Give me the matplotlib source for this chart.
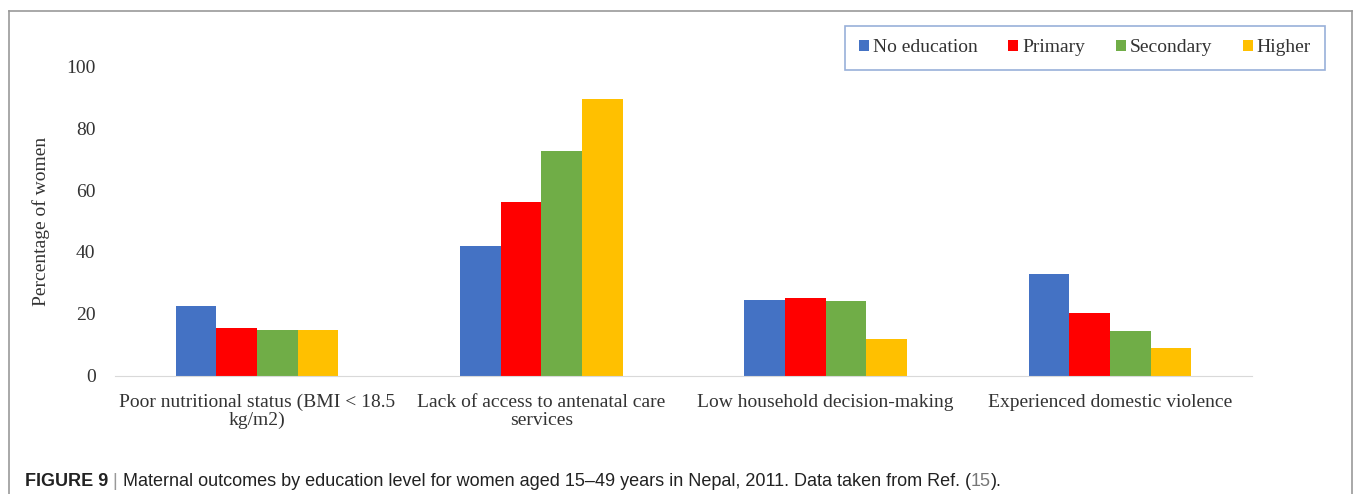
import matplotlib
matplotlib.use("Agg")
import matplotlib.pyplot as plt
import numpy as np
from matplotlib.lines import Line2D

categories = [
    "Poor nutritional status (BMI < 18.5\nkg/m2)",
    "Lack of access to antenatal care\nservices",
    "Low household decision-making",
    "Experienced domestic violence",
]
series_names = ["No education", "Primary", "Secondary", "Higher"]
no_education = [22.7, 42.0, 24.5, 32.8]
primary = [15.4, 56.1, 25.3, 20.2]
secondary = [15.0, 72.7, 24.2, 14.6]
higher = [15.0, 89.5, 11.9, 8.9]
colors = ["#4472C4", "#FF0000", "#70AD47", "#FFC000"]

serif = ["Liberation Serif", "DejaVu Serif"]

fig = plt.figure(figsize=(13.57, 4.94), dpi=100)
ax = fig.add_axes([115 / 1357, 1 - 376 / 494, 1137 / 1357, 310 / 494])

x = np.arange(len(categories))
w = 0.143
values = [no_education, primary, secondary, higher]
for i, (name, vals, c) in enumerate(zip(series_names, values, colors)):
    ax.bar(x + (i - 1.5) * w, vals, width=w, color=c, label=name)

ax.set_xlim(-0.5, 3.5)
ax.set_ylim(0, 100)
ax.set_yticks([0, 20, 40, 60, 80, 100])
ax.set_xticks(x)
ax.set_xticklabels(categories, family=serif, fontsize=14, color="#333333",
                   linespacing=1.05)
for lbl in ax.get_yticklabels():
    lbl.set_family(serif)
    lbl.set_fontsize(14)
    lbl.set_color("#333333")
ax.tick_params(length=0, pad=14)
ax.tick_params(axis="x", pad=13)
for s in ["top", "right", "left"]:
    ax.spines[s].set_visible(False)
ax.spines["bottom"].set_color("#D9D9D9")
ax.set_ylabel("Percentage of women", family=serif, fontsize=14, color="#333333", labelpad=12)

leg = fig.legend(loc="center", bbox_to_anchor=(1085 / 1357, 1 - 48 / 494), ncol=4,
                 prop={"family": serif, "size": 14}, handlelength=0.5, handleheight=0.5,
                 handletextpad=0.2, columnspacing=1.6, fancybox=False,
                 borderpad=0.7, labelcolor="#333333")
leg.get_frame().set_edgecolor("#7F9CCF")
leg.get_frame().set_linewidth(1.2)

# outer frame (open at bottom)
frame_kw = dict(color="#999999", lw=1.2, transform=fig.transFigure)
fig.add_artist(Line2D([9 / 1357, 9 / 1357], [0, 1 - 11 / 494], **frame_kw))
fig.add_artist(Line2D([9 / 1357, 1352 / 1357], [1 - 11 / 494, 1 - 11 / 494], **frame_kw))
fig.add_artist(Line2D([1352 / 1357, 1352 / 1357], [0, 1 - 11 / 494], **frame_kw))

# caption
sans = ["Liberation Sans", "DejaVu Sans"]
pieces = [
    ("FIGURE 9", "bold", "#222222"),
    (" | ", "normal", "#999999"),
    ("Maternal outcomes by education level for women aged 15\u201349 years in Nepal, 2011. Data taken from Ref. (", "normal", "#222222"),
    ("15", "normal", "#777777"),
    (").", "normal", "#222222"),
]
renderer = fig.canvas.get_renderer()
xpos = 25
for txt, weight, col in pieces:
    t = fig.text(xpos / 1357, 1 - 481 / 494, txt, family=sans, fontsize=13,
                 weight=weight, color=col, va="center", ha="left")
    bb = t.get_window_extent(renderer=renderer)
    xpos += bb.width

fig.savefig("out.png", dpi=100)
